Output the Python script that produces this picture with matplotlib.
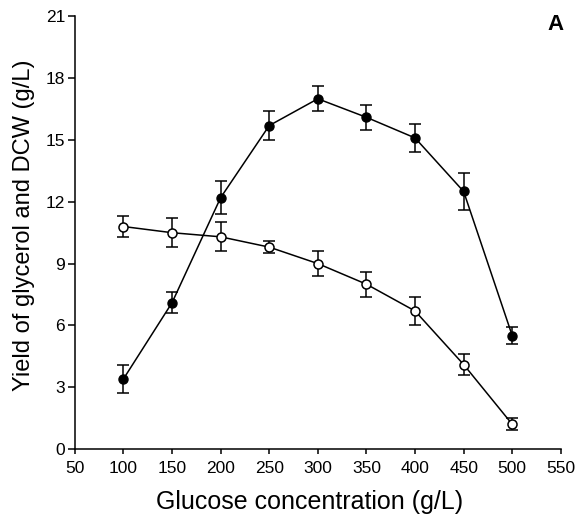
import numpy as np
import matplotlib.pyplot as plt

plt.rcParams['font.family'] = ['Liberation Sans', 'DejaVu Sans']

glucose = [100, 150, 200, 250, 300, 350, 400, 450, 500]

# glycerol yield (filled) and DCW (open), g/L
glycerol = [3.4, 7.1, 12.2, 15.7, 17.0, 16.1, 15.1, 12.5, 5.5]
glycerol_err = [0.7, 0.5, 0.8, 0.7, 0.6, 0.6, 0.7, 0.9, 0.4]
dcw = [10.8, 10.5, 10.3, 9.8, 9.0, 8.0, 6.7, 4.1, 1.2]
dcw_err = [0.5, 0.7, 0.7, 0.3, 0.6, 0.6, 0.7, 0.5, 0.3]

xticks = [50, 100, 150, 200, 250, 300, 350, 400, 450, 500, 550]
yticks = [0, 3, 6, 9, 12, 15, 18, 21]

fig = plt.figure(figsize=(5.8, 5.2), dpi=100)
ax = fig.add_axes([0.129, 0.1365, 0.838, 0.832])

ax.errorbar(glucose, glycerol, yerr=glycerol_err, color='black', marker='o',
            markersize=6.5, markerfacecolor='black', linewidth=1.1,
            elinewidth=1.1, capsize=4, capthick=1.1, zorder=3)
ax.errorbar(glucose, dcw, yerr=dcw_err, color='black', marker='o',
            markersize=6.5, markerfacecolor='white', markeredgewidth=1.1,
            linewidth=1.1, elinewidth=1.1, capsize=4, capthick=1.1, zorder=3)

ax.set_xlim(50, 550)
ax.set_ylim(0, 21)
ax.set_xticks(xticks)
ax.set_yticks(yticks)
ax.tick_params(axis='x', direction='out', length=3.5, width=1.1, labelsize=12.5, pad=5)
ax.tick_params(axis='y', direction='out', length=5, width=1.1, labelsize=12.5, pad=2)

ax.spines['top'].set_visible(False)
ax.spines['right'].set_visible(False)
ax.spines['left'].set_linewidth(1.1)
ax.spines['bottom'].set_linewidth(1.1)

# axis titles placed directly on the figure
fig.text(0.533, 0.021, 'Glucose concentration (g/L)', fontsize=18,
         ha='center', va='baseline')
fig.text(0.041, 0.567, 'Yield of glycerol and DCW (g/L)', fontsize=17,
         rotation=90, ha='center', va='center')

fig.text(556 / 580, 1 - 24 / 520, 'A', fontsize=16, fontweight='bold',
         ha='center', va='center')

fig.savefig('out.png', dpi=100)
